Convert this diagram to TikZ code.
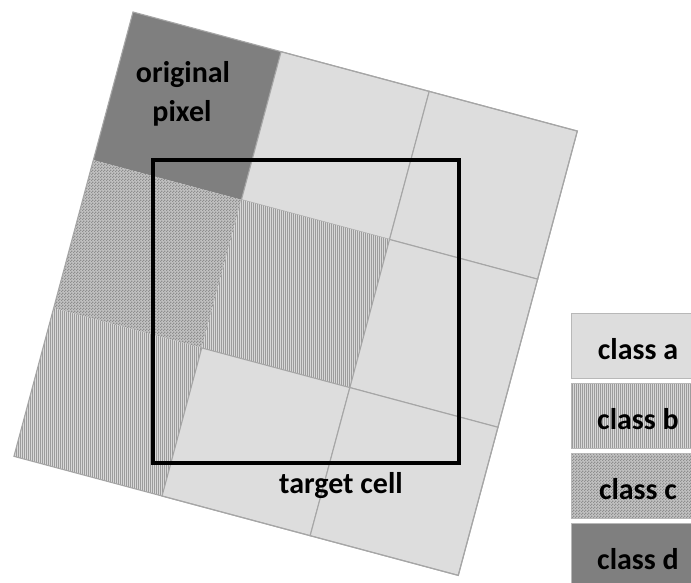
\documentclass[tikz,border=0pt]{standalone}
\usepackage{fontspec}
\setmainfont{Carlito}
\usetikzlibrary{patterns.meta}
\tikzdeclarepattern{
  name=vstripes,
  type=uncolored,
  bottom left={(0pt,0pt)},
  top right={(2.4pt,2.4pt)},
  tile size={(2.4pt,2.4pt)},
  code={\pgfpathrectangle{\pgfpointorigin}{\pgfqpoint{1.0pt}{2.4pt}}\pgfusepath{fill}}
}
\tikzdeclarepattern{
  name=cdots,
  type=uncolored,
  bottom left={(0pt,0pt)},
  top right={(2.6pt,2.6pt)},
  tile size={(2.6pt,2.6pt)},
  code={\pgfpathrectangle{\pgfpointorigin}{\pgfqpoint{1.3pt}{1.3pt}}
        \pgfpathrectangle{\pgfqpoint{1.3pt}{1.3pt}}{\pgfqpoint{1.3pt}{1.3pt}}\pgfusepath{fill}}
}
\definecolor{cla}{HTML}{DDDDDD}
\definecolor{clbbase}{HTML}{D8D8D8}
\definecolor{clbline}{HTML}{9C9C9C}
\definecolor{clcbase}{HTML}{C2C2C2}
\definecolor{clcdot}{HTML}{8E8E8E}
\definecolor{cld}{HTML}{7F7F7F}
\definecolor{gridgray}{HTML}{A6A6A6}
\begin{document}
\begin{tikzpicture}[x=1pt,y=-1pt,
  classa/.style={fill=cla},
  classb/.style={preaction={fill=clbbase}, pattern=vstripes, pattern color=clbline},
  classc/.style={preaction={fill=clcbase}, pattern=cdots, pattern color=clcdot},
  classd/.style={fill=cld},
  gridline/.style={draw=gridgray, line width=1.1pt},
  lbl/.style={font=\fontsize{30}{36}\selectfont\bfseries, text=black, inner sep=0pt},
  legendbox/.style={draw=black!28, line width=1pt, minimum width=134pt, minimum height=65pt,
     inner sep=0pt, text height=27pt, text depth=0pt, font=\fontsize{30}{36}\selectfont\bfseries}
]
\useasboundingbox (0,0) rectangle (691,583);
\fill[white] (0,0) rectangle (691,583);
\begin{scope}[shift={(133,12)}, rotate=-15]
  % row 0
  \path[classd] (0,0) rectangle (153.33,153.33);
  \path[classa, gridline] (153.33,0) rectangle (306.67,153.33);
  \path[classa, gridline] (306.67,0) rectangle (460,153.33);
  % row 1
  \path[classc] (0,153.33) rectangle (153.33,306.67);
  \path[classb] (153.33,153.33) rectangle (306.67,306.67);
  \path[classa, gridline] (306.67,153.33) rectangle (460,306.67);
  % row 2
  \path[classb] (0,306.67) rectangle (153.33,460);
  \path[classa, gridline] (153.33,306.67) rectangle (306.67,460);
  \path[classa, gridline] (306.67,306.67) rectangle (460,460);
  % outline
  \draw[gridline] (0,0) rectangle (460,460);
\end{scope}
% target cell
\draw[black, line width=3.8pt] (153,160) rectangle (459,463);
% labels
\node[lbl, anchor=base] (orig1) at (183,83) {original};
\node[lbl, anchor=base] (orig2) at (182,122) {pixel};
\node[lbl, anchor=base] (target) at (341,493) {target cell};
% legend
\node[legendbox, classa] (la) at (638,345.5) {class a};
\node[legendbox, classb] (lb) at (638,415.5) {class b};
\node[legendbox, classc] (lc) at (638,485.5) {class c};
\node[legendbox, classd] (ld) at (638,555.5) {class d};
\end{tikzpicture}
\end{document}
